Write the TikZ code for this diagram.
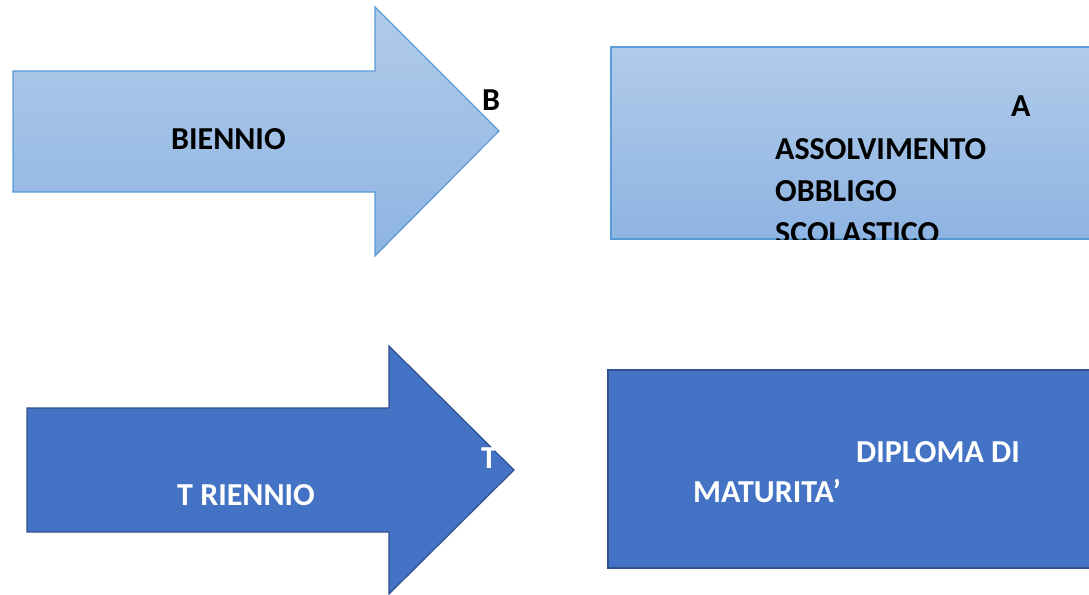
\documentclass[tikz,border=0pt]{standalone}
\usepackage{fontspec}
\setmainfont{Carlito}
\definecolor{paleblue}{HTML}{5B9BD5}
\definecolor{palefilltop}{HTML}{B1CBE9}
\definecolor{palefillbot}{HTML}{8EB4E3}
\definecolor{deepblue}{HTML}{4472C4}
\definecolor{deepline}{HTML}{2F528F}
\tikzstyle{lightshape}=[draw=paleblue,line width=1.2pt,top color=palefilltop,bottom color=palefillbot]
\tikzstyle{darkshape}=[draw=deepline,line width=1.2pt,fill=deepblue]
\tikzstyle{lighttext}=[anchor=base west,inner sep=0pt,font=\fontsize{32}{42}\selectfont\bfseries,text=black]
\tikzstyle{darktext}=[anchor=base west,inner sep=0pt,font=\fontsize{32}{42}\selectfont\bfseries,text=white]

\begin{document}
\begin{tikzpicture}[x=1pt,y=-1pt]
	\useasboundingbox (0,0) rectangle (1089,594);
	%The two arrows
	\draw[lightshape] (13,71) -- (375,71) -- (375,7) -- (499,131) -- (375,256) -- (375,192) -- (13,192) -- cycle;
	\draw[darkshape] (27,408) -- (389,408) -- (389,346) -- (514,470) -- (389,594) -- (389,532) -- (27,532) -- cycle;
	%The two boxes
	\draw[lightshape] (611,47) rectangle (1100,239);
	\draw[darkshape] (608,370) rectangle (1100,568);
	%Texts of the arrows
	\node[lighttext] (biennio) at (171,149) {BIENNIO};
	\node[lighttext] (btip) at (482,110) {B};
	\node[darktext] (triennio) at (177,505) {T RIENNIO};
	\node[darktext] (ttip) at (481,468) {T};
	%Texts of the boxes
	\begin{scope}
		\clip (611,47) rectangle (1100,239);
		\node[lighttext] (aletter) at (1011,116) {A};
		\node[lighttext] (assolv) at (775,159) {ASSOLVIMENTO};
		\node[lighttext] (obbligo) at (775,201) {OBBLIGO};
		\node[lighttext] (scolastico) at (775,243) {SCOLASTICO};
	\end{scope}
	\node[darktext] (diploma) at (856,462) {DIPLOMA DI};
	\node[darktext] (maturita) at (693,502) {MATURITA’};
\end{tikzpicture}
\end{document}
